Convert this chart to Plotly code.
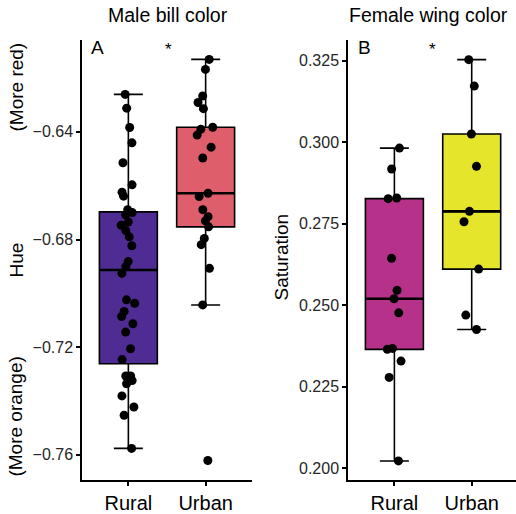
import numpy as np
import plotly.graph_objects as go

# ---------------- data ----------------
groups = ["Rural", "Urban"]

hue_rural = [-0.6261, -0.6312, -0.6384, -0.6441, -0.6515, -0.6597, -0.6624, -0.6639,
             -0.6689, -0.6700, -0.6708, -0.6735, -0.6747, -0.6767, -0.6790, -0.6823,
             -0.6882, -0.6901, -0.6926, -0.7024, -0.7037, -0.7067, -0.7086, -0.7113,
             -0.7144, -0.7206, -0.7246, -0.7307, -0.7307, -0.7310, -0.7324, -0.7336,
             -0.7381, -0.7422, -0.7453, -0.7576]
hue_urban = [-0.6131, -0.6168, -0.6267, -0.6291, -0.6314, -0.6383, -0.6390, -0.6412,
             -0.6457, -0.6497, -0.6628, -0.6640, -0.6689, -0.6715, -0.6731, -0.6753,
             -0.6796, -0.6819, -0.6907, -0.7043, -0.7621]

sat_rural = [0.2982, 0.2918, 0.2829, 0.2827, 0.2644, 0.2546, 0.2520, 0.2477,
             0.2368, 0.2365, 0.2329, 0.2279, 0.2023]
sat_urban = [0.3253, 0.3172, 0.3025, 0.2926, 0.2788, 0.2756, 0.2611, 0.2470, 0.2426]

hue_ticks = [-0.76, -0.72, -0.68, -0.64]
sat_ticks = [0.200, 0.225, 0.250, 0.275, 0.300, 0.325]

titles = ["Male bill color", "Female wing color"]
panel_tags = ["A", "B"]
hue_labels = ["(More red)", "Hue", "(More orange)"]
sat_label = "Saturation"

# ---------------- style ----------------
W, H = 516, 514
FONT = "Liberation Sans, Arial, Helvetica, sans-serif"
fill_A = ["#4F2C93", "#DF5E6B"]
fill_B = ["#B6318A", "#E5E52C"]
BOX_W = 0.75


def stats(v):
    v = np.asarray(v, dtype=float)
    q1, med, q3 = np.percentile(v, [25, 50, 75])
    iqr = q3 - q1
    lo = v[v >= q1 - 1.5 * iqr].min()
    hi = v[v <= q3 + 1.5 * iqr].max()
    return q1, med, q3, lo, hi


fig = go.Figure()


def add_group(values, group, color, xa, ya):
    q1, med, q3, lo, hi = stats(values)
    # box from computed statistics
    fig.add_trace(go.Box(
        x=[group], q1=[q1], median=[med], q3=[q3], lowerfence=[lo], upperfence=[hi],
        width=BOX_W, fillcolor=color, line=dict(color="black", width=1.6),
        boxpoints=False, xaxis=xa, yaxis=ya, showlegend=False, hoverinfo="skip"))
    # thicker median bar
    fig.add_trace(go.Box(
        x=[group], q1=[med], median=[med], q3=[med], lowerfence=[med], upperfence=[med],
        width=BOX_W, fillcolor="rgba(0,0,0,0)", line=dict(color="black", width=2.6),
        boxpoints=False, xaxis=xa, yaxis=ya, showlegend=False, hoverinfo="skip"))
    # jittered points
    fig.add_trace(go.Box(
        x=[group] * len(values), y=values, width=BOX_W,
        fillcolor="rgba(0,0,0,0)", line=dict(color="rgba(0,0,0,0)", width=0),
        boxpoints="all", jitter=0.32, pointpos=0,
        marker=dict(color="black", size=9, line=dict(width=0)),
        xaxis=xa, yaxis=ya, showlegend=False))


add_group(hue_rural, groups[0], fill_A[0], "x", "y")
add_group(hue_urban, groups[1], fill_A[1], "x", "y")
add_group(sat_rural, groups[0], fill_B[0], "x2", "y2")
add_group(sat_urban, groups[1], fill_B[1], "x2", "y2")

y_dom = [1 - 483 / H, 1 - 40 / H]
axis_common = dict(showline=True, linecolor="black", linewidth=1.5, ticks="outside",
                   ticklen=4, tickwidth=1.5, tickcolor="black", showgrid=False,
                   zeroline=False, fixedrange=True)

fig.update_layout(
    width=W, height=H, margin=dict(l=0, r=0, t=0, b=0),
    paper_bgcolor="white", plot_bgcolor="white", boxmode="overlay",
    font=dict(family=FONT, color="black"),
    xaxis=dict(domain=[82 / W, 252 / W], anchor="y", range=[-0.6, 1.6],
               categoryorder="array", categoryarray=groups,
               tickfont=dict(size=20, color="black"), **axis_common),
    yaxis=dict(domain=y_dom, anchor="x", range=[-0.7694, -0.6058],
               tickvals=hue_ticks, tickformat=".2f",
               tickfont=dict(size=16, color="#262626"), **axis_common),
    xaxis2=dict(domain=[348 / W, 1.0], anchor="y2", range=[-0.6, 1.573],
                categoryorder="array", categoryarray=groups,
                tickfont=dict(size=20, color="black"), **axis_common),
    yaxis2=dict(domain=y_dom, anchor="x2", range=[0.1964, 0.3314],
                tickvals=sat_ticks, tickformat=".3f",
                tickfont=dict(size=16, color="#262626"), **axis_common),
)

ann = []
# panel titles
ann.append(dict(text=titles[0], x=168 / W, y=1 - 15 / H, xref="paper", yref="paper",
                showarrow=False, font=dict(size=19.5), xanchor="center", yanchor="middle"))
ann.append(dict(text=titles[1], x=428 / W, y=1 - 15 / H, xref="paper", yref="paper",
                showarrow=False, font=dict(size=19.5), xanchor="center", yanchor="middle"))
# panel tags and stars
ann.append(dict(text=panel_tags[0], x=89 / W, y=1 - 48 / H, xref="paper", yref="paper",
                showarrow=False, font=dict(size=19), xanchor="left", yanchor="middle"))
ann.append(dict(text="*", x=168 / W, y=1 - 50 / H, xref="paper", yref="paper",
                showarrow=False, font=dict(size=17), xanchor="center", yanchor="middle"))
ann.append(dict(text=panel_tags[1], x=356 / W, y=1 - 48 / H, xref="paper", yref="paper",
                showarrow=False, font=dict(size=19), xanchor="left", yanchor="middle"))
ann.append(dict(text="*", x=432 / W, y=1 - 50 / H, xref="paper", yref="paper",
                showarrow=False, font=dict(size=17), xanchor="center", yanchor="middle"))
# y-axis labels
for txt, yc in zip(hue_labels, [88, 262, 419]):
    ann.append(dict(text=txt, x=16 / W, y=1 - yc / H, xref="paper", yref="paper",
                    showarrow=False, textangle=-90, font=dict(size=19),
                    xanchor="center", yanchor="middle"))
ann.append(dict(text=sat_label, x=281 / W, y=1 - 259 / H, xref="paper", yref="paper",
                showarrow=False, textangle=-90, font=dict(size=19),
                xanchor="center", yanchor="middle"))

fig.update_layout(annotations=ann)

fig.write_html("out.html")
